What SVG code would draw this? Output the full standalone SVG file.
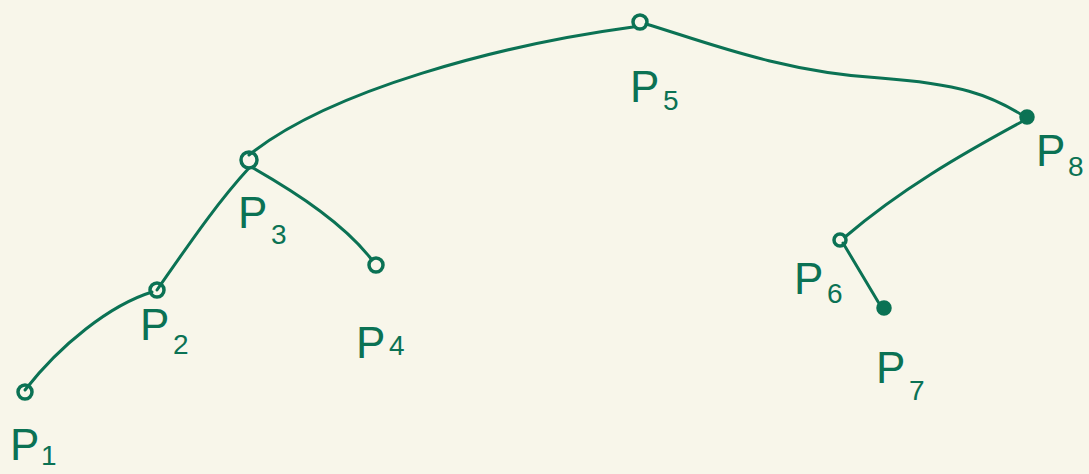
<svg xmlns="http://www.w3.org/2000/svg" width="1089" height="474" viewBox="0 0 1089 474">
<style>
.bg{fill:#f8f6ea}
.e{fill:none;stroke:#0b7254;stroke-width:3;stroke-linecap:round}
.n{fill:none;stroke:#0b7254;stroke-width:3.5}
.f{fill:#0b7254;stroke:#0b7254;stroke-width:3.5}
.l{font-family:"Liberation Sans",sans-serif;font-size:44px;fill:#0b7254}
.s{font-family:"Liberation Sans",sans-serif;font-size:28px;fill:#0b7254}
</style>
<rect class="bg" width="1089" height="474"/>
<g id="connectors">
<path class="e" d="M25,390 C60,345 110,305 152,292"/>
<path class="e" d="M157,290 C185,250 215,205 249,168"/>
<path class="e" d="M253,168 C300,195 345,225 372,260"/>
<path class="e" d="M249,155 C330,90 500,45 633,27"/>
<path class="e" d="M646,24 C700,40 780,72 880,78 C960,84 990,95 1022,115"/>
<path class="e" d="M1025,120 C960,155 900,190 845,237"/>
<path class="e" d="M843,243 L880,305"/>
</g>
<g id="p1"><circle class="n" cx="25" cy="392" r="7"/><text class="l" x="10" y="460">P</text><text class="s" x="41" y="465">1</text></g>
<g id="p2"><circle class="n" cx="157" cy="290" r="7"/><text class="l" x="140" y="340">P</text><text class="s" x="173" y="354">2</text></g>
<g id="p3"><circle class="n" cx="249" cy="160" r="8"/><text class="l" x="238" y="228">P</text><text class="s" x="271" y="244">3</text></g>
<g id="p4"><circle class="n" cx="376" cy="265" r="7"/><text class="l" x="356" y="358">P</text><text class="s" x="389" y="355">4</text></g>
<g id="p5"><circle class="n" cx="640" cy="22" r="7"/><text class="l" x="630" y="102">P</text><text class="s" x="663" y="110">5</text></g>
<g id="p6"><circle class="n" cx="840" cy="240" r="6"/><text class="l" x="794" y="294">P</text><text class="s" x="827" y="303">6</text></g>
<g id="p7"><circle class="f" cx="884" cy="308" r="6"/><text class="l" x="876" y="383">P</text><text class="s" x="909" y="400">7</text></g>
<g id="p8"><circle class="f" cx="1027" cy="117" r="6"/><text class="l" x="1036" y="166">P</text><text class="s" x="1068" y="176">8</text></g>
</svg>
